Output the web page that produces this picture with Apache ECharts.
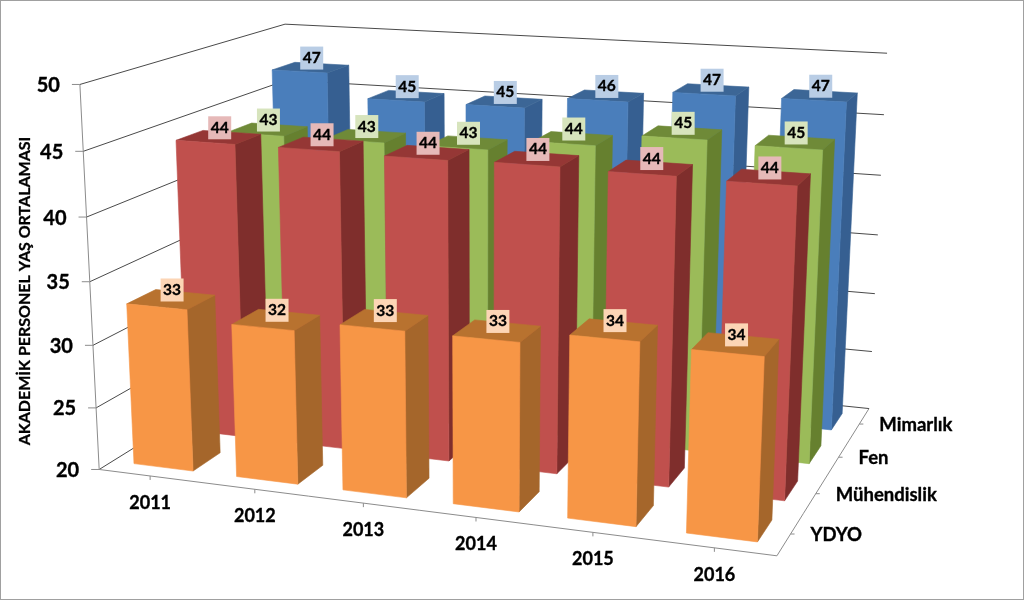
<!DOCTYPE html>
<html><head><meta charset="utf-8">
<style>html,body{margin:0;padding:0;background:#fff}#c{width:1024px;height:600px}</style>
<script src="https://cdn.jsdelivr.net/npm/echarts@6/dist/echarts.min.js"></script>
</head><body><div id="c"></div>
<script>
const years = ['2011','2012','2013','2014','2015','2016'];
const yTicks = [20,25,30,35,40,45,50];
const depthNames = ['YDYO','Mühendislik','Fen','Mimarlık'];
const ydyo = [32.9,32.1,32.9,32.9,33.8,33.6];
const muhendislik = [44,44,43.9,44,43.9,43.8];
const fen = [43.1,43.1,43.1,44,45,44.8];
const mimarlik = [47,45,45,46,47,47];
const yTitle = 'AKADEMİK PERSONEL YAŞ ORTALAMASI';
const FONT = 'Lato, "Open Sans", sans-serif';

// Box corners on screen: [x 0..1, value 0..1, depth 0..1] -> [px, py]; fitted to a perspective camera.
const anchors = [
 [0,0,0, 99,467],[1,0,0, 777,558],[0,1,0, 80,85],[0,0,1, 293,352],
 [1,0,1, 869,406],[0,1,1, 285,23],[1,1,1, 887,54]
];
function fitCamera(pts){
  const A=[],b=[];
  pts.forEach(([x,y,z,pu,pv])=>{const u=pu/1000,v=pv/1000;
    A.push([x,y,z,1,0,0,0,0,-u*x,-u*y,-u*z]);b.push(u);
    A.push([0,0,0,0,x,y,z,1,-v*x,-v*y,-v*z]);b.push(v);});
  const n=11,M=[];
  for(let i=0;i<n;i++){M[i]=[];for(let j=0;j<=n;j++){let s=0;
    for(let k=0;k<A.length;k++)s+=A[k][i]*(j<n?A[k][j]:b[k]);M[i][j]=s;}}
  for(let i=0;i<n;i++){let p=i;for(let r=i+1;r<n;r++)if(Math.abs(M[r][i])>Math.abs(M[p][i]))p=r;
    [M[i],M[p]]=[M[p],M[i]];
    for(let r=0;r<n;r++)if(r!==i){const f=M[r][i]/M[i][i];for(let j=i;j<=n;j++)M[r][j]-=f*M[i][j];}}
  return M.map((r,i)=>r[n]/r[i]);
}
const cam=fitCamera(anchors);
function proj(x,y,z){const w=cam[8]*x+cam[9]*y+cam[10]*z+1;
  return [1000*(cam[0]*x+cam[1]*y+cam[2]*z+cam[3])/w,1000*(cam[4]*x+cam[5]*y+cam[6]*z+cam[7])/w];}

const BAR_W=0.58, BAR_D=0.52;
const palette={
 'YDYO':{front:'#F79646',side:'#A5662B',top:'#B8722F',label:'#FCD5B5'},
 'Mühendislik':{front:'#C0504D',side:'#7F2E2C',top:'#953735',label:'#E6B9B8'},
 'Fen':{front:'#9BBB59',side:'#66802F',top:'#6F8A38',label:'#D7E4BD'},
 'Mimarlık':{front:'#4A7EBB',side:'#365F91',top:'#3C6696',label:'#B9CDE5'}
};
// Convert library pixels of the hidden grid to unit box coordinates.
function unit(params,api,cat,val){
  const r=params.coordSys,c=api.coord([cat,val]);
  return [(c[0]-r.x)/r.width,1-(c[1]-r.y)/r.height];
}
const poly=(pts,fill,z2)=>({type:'polygon',shape:{points:pts},z2:z2||0,
  style:{fill,stroke:fill,lineWidth:0.6}});
const line=(a,b,stroke,w)=>({type:'line',shape:{x1:a[0],y1:a[1],x2:b[0],y2:b[1]},style:{stroke,lineWidth:w||1}});
const text=(x,y,t,size,align,extra)=>Object.assign({type:'text',x,y,
  style:{text:t,fill:'#000',font:'bold '+size+'px '+FONT,align:align,verticalAlign:'middle',
    stroke:'#000',lineWidth:0.35}},extra||{});

function barSeries(name,values,d){
  const col=palette[name];
  return {type:'custom',name,coordinateSystem:'cartesian2d',z:10+(3-d),animation:false,silent:true,clip:false,
    encode:{x:0,y:1},
    data:values.map((v,i)=>[i,v]),
    renderItem(params,api){
      const cat=api.value(0),val=api.value(1);
      const [ux,uy]=unit(params,api,cat,val);
      const hw=BAR_W/years.length/2, hd=BAR_D/depthNames.length/2, zc=(d+0.5)/depthNames.length;
      const x0=ux-hw,x1=ux+hw,z0=zc-hd,z1=zc+hd;
      const fb0=proj(x0,0,z0),fb1=proj(x1,0,z0),bb1=proj(x1,0,z1);
      const ft0=proj(x0,uy,z0),ft1=proj(x1,uy,z0),bt1=proj(x1,uy,z1),bt0=proj(x0,uy,z1);
      const tc=proj(ux,uy,zc);
      return {type:'group',children:[
        poly([fb1,bb1,bt1,ft1],col.side),
        poly([ft0,ft1,bt1,bt0],col.top),
        poly([fb0,fb1,ft1,ft0],col.front),
        {type:'rect',shape:{x:tc[0]-10.5,y:tc[1]-21,width:23,height:23},style:{fill:col.label},z2:50},
        text(tc[0]+1,tc[1]-9.5,String(Math.round(val)),15.5,'center',{z2:51})
      ]};
    }};
}

const DARK='#4a4a4a',GREY='#8c8c8c';
const wallSeries={type:'custom',name:'walls',z:1,animation:false,silent:true,clip:false,
  coordinateSystem:'cartesian2d',encode:{x:0,y:1},
  data:yTicks.map(v=>[0,v]),
  renderItem(params,api){
    const uy=unit(params,api,api.value(0),api.value(1))[1];
    const a=proj(0,uy,0),b=proj(0,uy,1),c=proj(1,uy,1);
    const kids=[line(a,b,DARK),line(b,c,DARK),line([a[0]-8,a[1]],a,GREY),
      text(a[0]-20,a[1]+1,String(api.value(1)),20,'right')];
    if(params.dataIndex<yTicks.length-1){
      const top=proj(0,unit(params,api,0,yTicks[params.dataIndex+1])[1],0);
      kids.push(line(a,top,GREY));
    }
    return {type:'group',children:kids};
  }};
const xSeries={type:'custom',name:'xlabels',z:2,animation:false,silent:true,clip:false,
  coordinateSystem:'cartesian2d',encode:{x:0,y:1},
  data:years.map((y,i)=>[i,yTicks[0]]),
  renderItem(params,api){
    const cat=api.value(0),ux=unit(params,api,cat,yTicks[0])[0];
    const t=proj(ux,0,0);
    const r=[line(t,[t[0],t[1]+4],GREY),text(t[0],t[1]+27,years[cat],18,'center')];
    const e=proj(ux+0.5/years.length,0,0);
    r.push(line(proj(ux-0.5/years.length,0,0),e,GREY));
    return {type:'group',children:r};
  }};
const zSeries={type:'custom',name:'zlabels',z:2,animation:false,silent:true,clip:false,
  coordinateSystem:'cartesian2d',encode:{x:0,y:1},
  data:depthNames.map((n,i)=>[i,yTicks[0]]),
  renderItem(params,api){
    const i=params.dataIndex,z=(i+0.5)/depthNames.length;
    const t=proj(1,0,z);
    return {type:'group',children:[
      line(proj(1,0,i/depthNames.length),proj(1,0,(i+1)/depthNames.length),GREY),
      line(t,[t[0]+4,t[1]],GREY),
      text(t[0]+20,t[1]+1,depthNames[i],18.5,'left')]};
  }};

const chart=echarts.init(document.getElementById('c'),null,{renderer:'canvas'});
chart.setOption({
  animation:false,backgroundColor:'#fff',
  grid:{left:100,top:100,width:700,height:350},
  xAxis:{type:'category',data:years,show:false},
  yAxis:{type:'value',min:yTicks[0],max:yTicks[yTicks.length-1],interval:5,show:false},
  graphic:[
   {type:'rect',shape:{x:0,y:0,width:1024,height:600},style:{fill:'none',stroke:'#a0a0a0',lineWidth:2},z:100},
   {type:'text',x:25,y:291,rotation:Math.PI/2,style:{text:yTitle,fill:'#000',font:'bold 16px '+FONT,align:'center',verticalAlign:'middle',stroke:'#000',lineWidth:0.3},z:5}
  ],
  series:[wallSeries,
    zSeries,xSeries,
    barSeries('Mimarlık',mimarlik,3),
    barSeries('Fen',fen,2),
    barSeries('Mühendislik',muhendislik,1),
    barSeries('YDYO',ydyo,0)]
});
</script></body></html>
